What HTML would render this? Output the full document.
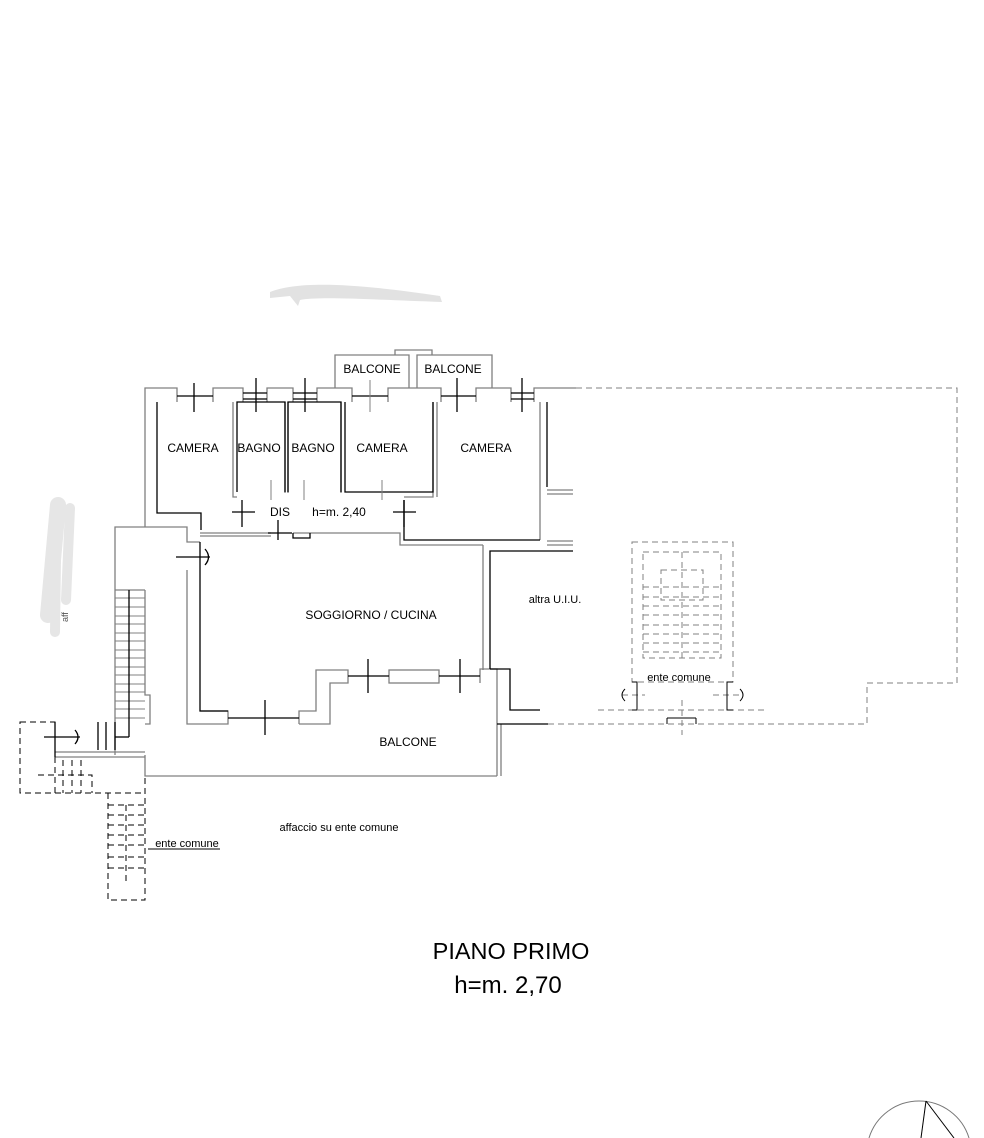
<!DOCTYPE html>
<html><head><meta charset="utf-8"><style>
html,body{margin:0;padding:0;background:#fff;}
svg{display:block;}
text{font-family:"Liberation Sans",sans-serif;}
</style></head><body>
<svg width="984" height="1138" viewBox="0 0 984 1138" xmlns="http://www.w3.org/2000/svg">
<!-- smudges -->
<path d="M270 292 C300 280 360 284 440 296 L442 302 C380 300 320 296 300 300 L298 306 L290 296 L270 298 Z" fill="#e2e2e2"/>
<g stroke="#e6e6e6" stroke-linecap="round" fill="none">
<line x1="58" y1="505" x2="48" y2="615" stroke-width="16"/>
<line x1="70" y1="508" x2="66" y2="600" stroke-width="10"/>
<line x1="56" y1="560" x2="55" y2="632" stroke-width="10"/>
</g>
<text x="68" y="622" font-size="9" fill="#555" transform="rotate(-90 68 622)">aff</text>

<g fill="none" stroke="#808080" stroke-width="1.3">
<polyline points="145,527 145,388 177,388 177,402"/>
<polyline points="213,402 213,388 243,388 243,402"/>
<polyline points="267,402 267,388 293,388 293,402"/>
<polyline points="317,402 317,388 352,388 352,402"/>
<polyline points="388,402 388,388 441,388 441,402"/>
<polyline points="476,402 476,388 511,388 511,402"/>
<polyline points="534,402 534,388 576,388"/>
<polyline points="335,388 335,355 409,355 409,388"/>
<polyline points="417,388 417,355 492,355 492,388"/>
<polyline points="395,355 395,350 432,350 432,355"/>
<polyline points="233,402 233,497 237,497"/>
<polyline points="285,402 285,493"/>
<polyline points="288,402 288,493"/>
<polyline points="341,402 341,493"/>
<polyline points="433,402 433,497 404,497"/>
<polyline points="437,402 437,497"/>
<polyline points="540,402 540,540"/>
<line x1="547" y1="490" x2="573" y2="490"/><line x1="547" y1="494" x2="573" y2="494"/>
<line x1="547" y1="541" x2="573" y2="541"/><line x1="547" y1="545" x2="573" y2="545"/>
<polyline points="200,533 271,533"/><polyline points="293,533 400,533 400,545 483,545"/>
<polyline points="200,536 271,536"/>
<polyline points="115,755 115,527 187,527 187,542 200,542"/>
<polyline points="187,570 187,724 228,724 228,711 200,711"/>
<rect x="389" y="670" width="50" height="13"/>
<polyline points="299,724 330,724 330,683 348,683 348,670 316,670 316,711 299,711 299,724"/>
<polyline points="483,545 483,670"/>
<polyline points="480,683 480,669 497,669 497,776"/>
<line x1="501" y1="724" x2="501" y2="776"/>
<polyline points="145,755 145,776 497,776"/>
<polyline points="145,590 145,695 150,695 150,724 145,724"/>
<line x1="55" y1="757" x2="145" y2="757"/><line x1="55" y1="752" x2="145" y2="752"/>
<line x1="115" y1="590" x2="145" y2="590"/>
</g>

<g stroke="#808080" stroke-width="1">
<line x1="115" y1="598" x2="145" y2="598"/><line x1="115" y1="607" x2="145" y2="607"/><line x1="115" y1="616" x2="145" y2="616"/><line x1="115" y1="624" x2="145" y2="624"/><line x1="115" y1="633" x2="145" y2="633"/><line x1="115" y1="641" x2="145" y2="641"/><line x1="115" y1="650" x2="145" y2="650"/><line x1="115" y1="658" x2="145" y2="658"/><line x1="115" y1="667" x2="145" y2="667"/><line x1="115" y1="675" x2="145" y2="675"/><line x1="115" y1="684" x2="145" y2="684"/><line x1="115" y1="692" x2="145" y2="692"/><line x1="115" y1="701" x2="145" y2="701"/><line x1="115" y1="709" x2="145" y2="709"/><line x1="115" y1="718" x2="145" y2="718"/>
</g>

<g fill="none" stroke="#000" stroke-width="1.3">
<polyline points="157,402 157,513 201,513 201,530"/>
<line x1="177" y1="396" x2="213" y2="396"/><line x1="194" y1="383" x2="194" y2="412"/>
<line x1="243" y1="393" x2="267" y2="393"/><line x1="243" y1="399" x2="267" y2="399"/><line x1="256" y1="378" x2="256" y2="412"/>
<line x1="293" y1="393" x2="317" y2="393"/><line x1="293" y1="399" x2="317" y2="399"/><line x1="305" y1="378" x2="305" y2="412"/>
<line x1="352" y1="396" x2="388" y2="396"/>
<line x1="441" y1="396" x2="476" y2="396"/><line x1="457" y1="378" x2="457" y2="412"/>
<line x1="511" y1="393" x2="534" y2="393"/><line x1="511" y1="399" x2="534" y2="399"/><line x1="522" y1="378" x2="522" y2="412"/>
<polyline points="237,492 237,402 285,402 285,492"/>
<polyline points="288,492 288,402 341,402 341,492"/>
<polyline points="345,402 345,492 433,492 433,402"/>
<polyline points="404,500 404,540 540,540"/>
<polyline points="547,402 547,487"/>
<polyline points="490,669 490,551 573,551"/>
<polyline points="490,669 510,669 510,710 540,710"/>
<polyline points="497,724 548,724"/>
<polyline points="200,570 200,711 228,711"/>
<line x1="200" y1="542" x2="200" y2="570"/>
<line x1="176" y1="557" x2="210" y2="557"/>
<path d="M205 549 Q212 557 205 565"/>
<line x1="228" y1="718" x2="299" y2="718"/><line x1="265" y1="700" x2="265" y2="735"/>
<line x1="348" y1="676" x2="389" y2="676"/><line x1="368" y1="659" x2="368" y2="693"/>
<line x1="439" y1="676" x2="480" y2="676"/><line x1="460" y1="659" x2="460" y2="693"/>
<line x1="242" y1="500" x2="242" y2="527"/><line x1="232" y1="512" x2="255" y2="512"/>
<line x1="404" y1="500" x2="404" y2="527"/><line x1="393" y1="512" x2="416" y2="512"/>
<line x1="278" y1="520" x2="278" y2="540"/><line x1="268" y1="533" x2="292" y2="533"/>
<polyline points="293,533 293,538 310,538 310,533"/>
<line x1="129" y1="590" x2="129" y2="737"/>
<line x1="55" y1="722" x2="55" y2="757"/>
<line x1="98" y1="722" x2="98" y2="750"/><line x1="106" y1="722" x2="106" y2="750"/><line x1="115" y1="722" x2="115" y2="750"/>
<line x1="115" y1="737" x2="129" y2="737"/>
<line x1="44" y1="737" x2="80" y2="737"/>
<path d="M75 730 Q81 737 75 744"/>
<line x1="148" y1="849" x2="220" y2="849" stroke-width="1"/>
</g>
<g stroke="#808080" stroke-width="1">
<line x1="370" y1="380" x2="370" y2="412"/><line x1="382" y1="480" x2="382" y2="500"/><line x1="271" y1="480" x2="271" y2="500"/><line x1="304" y1="480" x2="304" y2="500"/>
</g>

<g fill="none" stroke="#000" stroke-width="1" stroke-dasharray="6,4">
<rect x="20" y="722" width="35" height="71"/>
<polyline points="55,793 145,793"/>
<polyline points="108,793 108,900 145,900 145,776"/>
<line x1="108" y1="805" x2="145" y2="805"/><line x1="108" y1="815" x2="145" y2="815"/><line x1="108" y1="825" x2="145" y2="825"/><line x1="108" y1="835" x2="145" y2="835"/><line x1="108" y1="845" x2="145" y2="845"/><line x1="108" y1="857" x2="145" y2="857"/><line x1="108" y1="868" x2="145" y2="868"/><line x1="126" y1="805" x2="126" y2="885"/>
<polyline points="38,775 92,775 92,793"/>
<line x1="63" y1="760" x2="63" y2="793"/><line x1="72" y1="760" x2="72" y2="793"/><line x1="81" y1="760" x2="81" y2="793"/>
</g>
<g fill="none" stroke="#808080" stroke-width="1" stroke-dasharray="6,4">
<polyline points="576,388 957,388 957,683 867,683 867,724 548,724"/>
<rect x="632" y="542" width="101" height="140"/>
<rect x="643" y="552" width="78" height="106"/>
<rect x="661" y="570" width="42" height="30"/>
<line x1="643" y1="587" x2="721" y2="587"/><line x1="643" y1="597" x2="721" y2="597"/><line x1="643" y1="606" x2="721" y2="606"/><line x1="643" y1="615" x2="721" y2="615"/><line x1="643" y1="625" x2="721" y2="625"/><line x1="643" y1="634" x2="721" y2="634"/><line x1="643" y1="643" x2="721" y2="643"/><line x1="643" y1="652" x2="721" y2="652"/>
<line x1="682" y1="552" x2="682" y2="658"/>
<line x1="598" y1="710" x2="765" y2="710"/>
<line x1="622" y1="695" x2="645" y2="695"/><line x1="713" y1="695" x2="742" y2="695"/>
<line x1="682" y1="700" x2="682" y2="735"/>
</g>
<g fill="none" stroke="#000" stroke-width="1">
<polyline points="667,718 667,724"/><polyline points="696,718 696,724"/><line x1="667" y1="718" x2="696" y2="718"/>
<polyline points="632,682 637,682 637,710 632,710"/><polyline points="733,682 727,682 727,710 733,710"/>
<path d="M625 689 Q619 695 625 701"/><path d="M740 689 Q746 695 740 701"/>
</g>

<path d="M869 1138 A52.3 52.3 0 0 1 969 1138" fill="none" stroke="#777" stroke-width="1"/>
<line x1="926" y1="1101" x2="921" y2="1138" stroke="#000"/>
<line x1="926" y1="1101" x2="954" y2="1138" stroke="#000"/>

<g font-size="12" fill="#000" text-anchor="middle">
<text x="193" y="452">CAMERA</text>
<text x="259" y="452">BAGNO</text>
<text x="313" y="452">BAGNO</text>
<text x="382" y="452">CAMERA</text>
<text x="486" y="452">CAMERA</text>
<text x="372" y="373">BALCONE</text>
<text x="453" y="373">BALCONE</text>
<text x="280" y="516">DIS</text>
<text x="339" y="516">h=m. 2,40</text>
<text x="371" y="619">SOGGIORNO / CUCINA</text>
<text x="408" y="746">BALCONE</text>
<text x="555" y="603" font-size="11">altra U.I.U.</text>
<text x="679" y="681" font-size="11">ente comune</text>
<text x="187" y="847" font-size="11">ente comune</text>
<text x="339" y="831" font-size="11">affaccio su ente comune</text>
<text x="511" y="959" font-size="23.5">PIANO PRIMO</text>
<text x="508" y="993" font-size="24">h=m. 2,70</text>
</g>
</svg>
</body></html>
